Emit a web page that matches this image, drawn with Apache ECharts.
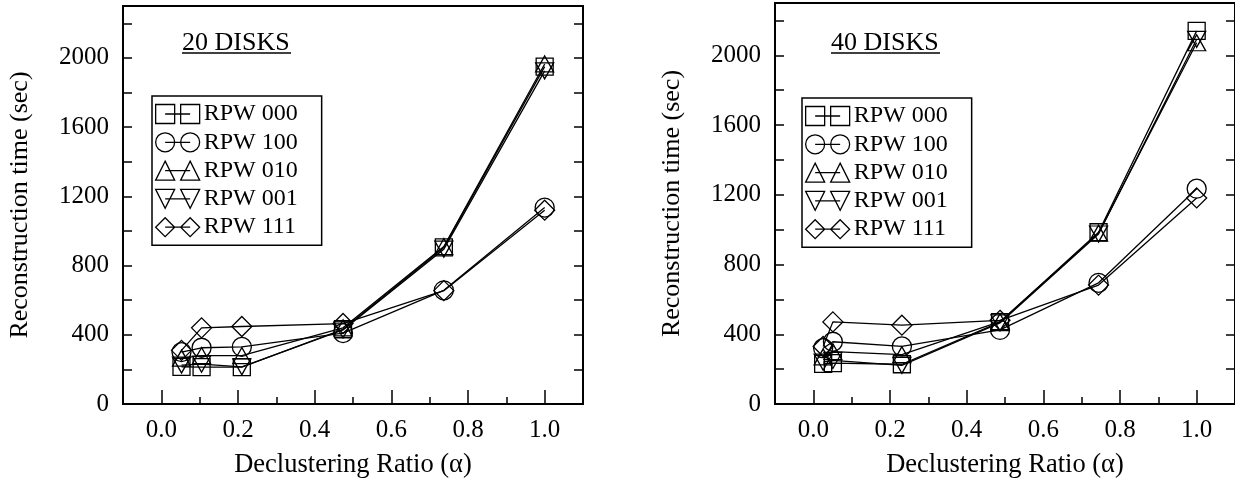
<!DOCTYPE html>
<html><head><meta charset="utf-8">
<script src="https://cdn.jsdelivr.net/npm/echarts@6/dist/echarts.min.js"></script>
<style>html,body{margin:0;padding:0;background:#fff}#c{width:1235px;height:484px}</style>
</head><body><div id="c"></div>
<script>
const seriesNames = ['RPW 000','RPW 100','RPW 010','RPW 001','RPW 111'];
const xTickLabels = [0.0,0.2,0.4,0.6,0.8,1.0];
const xMinorTicks = [0.1,0.3,0.5,0.7,0.9];
const yTickLabels = [0,400,800,1200,1600,2000];
const yTicks = [0,200,400,600,800,1000,1200,1400,1600,1800,2000,2200];

// 20 disks
const alpha20 = [0.0526,0.105,0.21,0.474,0.737,1.0];
const rpw000_20 = [215,213,213,432,905,1950];
const rpw100_20 = [300,325,330,410,657,1135];
const rpw010_20 = [265,280,280,440,910,1965];
const rpw001_20 = [225,230,215,428,895,1925];
const rpw111_20 = [310,440,448,465,655,1120];
// 40 disks
const alpha40 = [0.0256,0.051,0.231,0.487,0.744,1.0];
const rpw000_40 = [230,235,228,470,985,2140];
const rpw100_40 = [320,357,330,425,695,1235];
const rpw010_40 = [270,300,283,472,980,2072];
const rpw001_40 = [240,250,222,465,975,2092];
const rpw111_40 = [330,471,452,480,682,1182];

const FONT = 'Liberation Serif';
const symbols = [
  {symbol:'rect', size:17, rot:0},
  {symbol:'circle', size:19, rot:0},
  {symbol:'triangle', size:[18,16], rot:0},
  {symbol:'triangle', size:[18,16], rot:180},
  {symbol:'diamond', size:20, rot:0}
];
const legendIcons = [
  'path://M0,0H19V19H0Z M25,0H44V19H25Z M9.5,9.5H34.5',
  'path://M0,9.5A9.5,9.5 0 1 1 19,9.5A9.5,9.5 0 1 1 0,9.5Z M25,9.5A9.5,9.5 0 1 1 44,9.5A9.5,9.5 0 1 1 25,9.5Z M9.5,9.5H34.5',
  'path://M9.5,0L19,19H0Z M34.5,0L44,19H25Z M9.5,9.5H34.5',
  'path://M0,0H19L9.5,19Z M25,0H44L34.5,19Z M9.5,9.5H34.5',
  'path://M9.5,0L19,9.5L9.5,19L0,9.5Z M34.5,0L44,9.5L34.5,19L25,9.5Z M9.5,9.5H34.5'
];

const grids = [
  {left:123, top:6, width:460, height:403},
  {left:775, top:3, width:462, height:403}
];

function xAxes(g){
  return [
    {type:'value', gridIndex:g, min:-0.1, max:1.1, position:'bottom',
     axisLine:{show:false, onZero:false}, splitLine:{show:false},
     axisTick:{inside:true, length:14, customValues:xTickLabels, lineStyle:{color:'#000',width:1.5}},
     axisLabel:{customValues:xTickLabels, formatter:v=>v.toFixed(1), color:'#000', fontFamily:FONT, fontSize:25, margin:14},
     name:'Declustering Ratio (\u03b1)', nameLocation:'middle', nameGap:48,
     nameTextStyle:{color:'#000', fontFamily:FONT, fontSize:26.5}},
    {type:'value', gridIndex:g, min:-0.1, max:1.1, position:'bottom',
     axisLine:{show:false, onZero:false}, splitLine:{show:false},
     axisTick:{inside:true, length:7, customValues:xMinorTicks, lineStyle:{color:'#000',width:1.5}},
     axisLabel:{show:false}}
  ];
}
function yAxes(g){
  return [
    {type:'value', gridIndex:g, min:0, max:2300, position:'left',
     axisLine:{show:false, onZero:false}, splitLine:{show:false},
     axisTick:{inside:true, length:9, customValues:yTicks, lineStyle:{color:'#000',width:1.5}},
     axisLabel:{customValues:yTickLabels, formatter:v=>String(v), color:'#000', fontFamily:FONT, fontSize:25, margin:14},
     name:'Reconstruction time (sec)', nameLocation:'middle', nameGap:90,
     nameTextStyle:{color:'#000', fontFamily:FONT, fontSize:26}},
    {type:'value', gridIndex:g, min:0, max:2300, position:'right',
     axisLine:{show:false, onZero:false}, splitLine:{show:false},
     axisTick:{inside:true, length:9, customValues:yTicks, lineStyle:{color:'#000',width:1.5}},
     axisLabel:{show:false}}
  ];
}

function mkSeries(g, xs, arrs){
  return arrs.map((a,i)=>({
    type:'line', name:seriesNames[i], xAxisIndex:g*2, yAxisIndex:g*2,
    data: xs.map((x,k)=>[x,a[k]]),
    symbol:symbols[i].symbol, symbolSize:symbols[i].size, symbolRotate:symbols[i].rot,
    showAllSymbol:true, animation:false,
    lineStyle:{color:'#000', width:1.3},
    itemStyle:{color:'rgba(0,0,0,0)', borderColor:'#000', borderWidth:1.3},
    emphasis:{disabled:true}
  }));
}

function mkLegend(left, top){
  return {
    left:left, top:top, orient:'vertical', selectedMode:false,
    data: seriesNames.map((n,i)=>({name:n, icon:legendIcons[i]})),
    itemWidth:44, itemHeight:19, itemGap:4.3,
    borderColor:'#000', borderWidth:1.5, padding:[6,24,6,3],
    itemStyle:{color:'rgba(0,0,0,0)', borderColor:'#000', borderWidth:1.3},
    textStyle:{color:'#000', fontFamily:FONT, fontSize:24, padding:[0,0,0,-1], lineHeight:24}
  };
}

const chart = echarts.init(document.getElementById('c'), null, {renderer:'canvas'});
chart.setOption({
  animation:false,
  backgroundColor:'#fff',
  grid: grids.map(g=>Object.assign({show:true, borderColor:'#000', borderWidth:2, containLabel:false}, g)),
  xAxis: [...xAxes(0), ...xAxes(1)],
  yAxis: [...yAxes(0), ...yAxes(1)],
  legend: [mkLegend(152,96), mkLegend(802,98)],
  series: [...mkSeries(0, alpha20, [rpw000_20,rpw100_20,rpw010_20,rpw001_20,rpw111_20]),
           ...mkSeries(1, alpha40, [rpw000_40,rpw100_40,rpw010_40,rpw001_40,rpw111_40])],
  graphic: [
    {type:'text', left:182, top:30, style:{text:'20 DISKS', font:'26px "Liberation Serif"', fill:'#000'}},
    {type:'line', shape:{x1:182, y1:53, x2:291, y2:53}, style:{stroke:'#000', lineWidth:1.3}},
    {type:'text', left:831, top:30, style:{text:'40 DISKS', font:'26px "Liberation Serif"', fill:'#000'}},
    {type:'line', shape:{x1:831, y1:53, x2:940, y2:53}, style:{stroke:'#000', lineWidth:1.3}}
  ]
});
</script></body></html>
